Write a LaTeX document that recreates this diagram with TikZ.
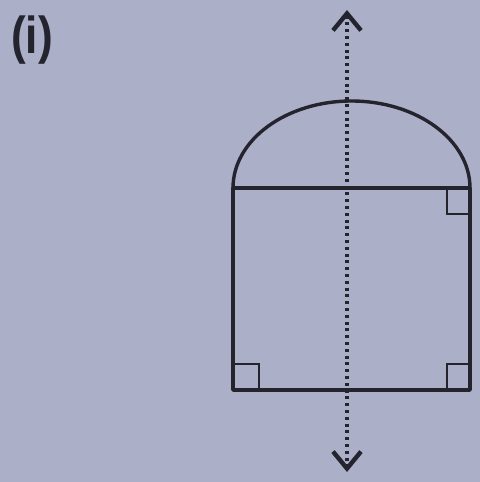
\documentclass[tikz,border=0pt]{standalone}
\usepackage{fontspec}
\newfontfamily\labelfont{Liberation Sans}
\usetikzlibrary{arrows.meta}

\definecolor{paper}{RGB}{172,175,200}
\definecolor{ink}{RGB}{36,36,46}

\begin{document}
\begin{tikzpicture}[
  x=0.5pt, y=-0.5pt,
  edge/.style={draw=ink, line width=1.7pt, line join=round},
  rtangle/.style={draw=ink, line width=1.4pt},
  axis/.style={draw=ink, line width=1.7pt, dash pattern=on 1.5pt off 1.9pt,
               {Straight Barb[length=8.5pt,width=14pt,line width=2.2pt]}-{Straight Barb[length=8.5pt,width=14pt,line width=2.2pt]}},
  tag/.style={font=\labelfont\bfseries\fontsize{26}{26}\selectfont, text=ink, inner sep=0pt, xscale=0.85}]

\fill[paper] (0,0) rectangle (480,482);
\useasboundingbox (0,0) rectangle (480,482);

\coordinate (tl) at (233,188);
\coordinate (tr) at (470,188);
\coordinate (bl) at (233,390);
\coordinate (br) at (470,390);
\coordinate (top) at (347,10);
\coordinate (bot) at (347,472);

\node[tag] (lbl) at (32,40) {(i)};

% rectangle and cap
\draw[edge] (tr) -- (tl) -- (bl) -- (br) -- cycle;
\draw[edge] (tl) arc[start angle=180, end angle=360, x radius=118.5, y radius=87];

% right angles
\draw[rtangle] (447,188) -- (447,214) -- (470,214);
\draw[rtangle] (233,364) -- (259,364) -- (259,390);
\draw[rtangle] (470,364) -- (447,364) -- (447,390);

% line of symmetry
\draw[axis] (top) -- (bot);
\end{tikzpicture}
\end{document}
